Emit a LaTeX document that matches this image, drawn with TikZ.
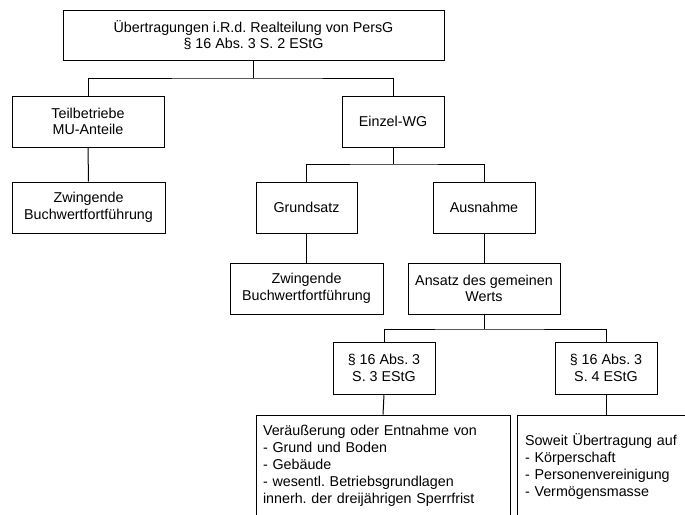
\documentclass[tikz,border=0pt]{standalone}
\usepackage{fontspec}
\setmainfont{Liberation Sans}
\begin{document}
\frenchspacing
\begin{tikzpicture}[x=1pt,y=-1pt,
  box/.style={draw, line width=1pt, align=center, inner sep=0pt,
    font=\fontsize{14.3}{16.6}\selectfont},
  listbox/.style={box, align=left, inner xsep=7pt,
    font=\fontsize{14.3}{17}\selectfont},
  link/.style={line width=1pt}]
\useasboundingbox (0,0) rectangle (685,514);
\clip (0,0) rectangle (685,514);

% level 0
\node[box, minimum width=381pt, minimum height=50pt] (top) at (253.5,35)
  {Übertragungen i.R.d. Realteilung von PersG\\§ 16 Abs. 3 S. 2 EStG};

% level 1
\node[box, minimum width=152pt, minimum height=51pt] (teil) at (88,121.5)
  {Teilbetriebe\\MU-Anteile};
\node[box, minimum width=102pt, minimum height=51pt] (einzel) at (393,121.5)
  {Einzel-WG};

% level 2
\node[box, minimum width=153pt, minimum height=51pt] (zw1) at (88.5,207.5)
  {Zwingende\\Buchwertfortführung};
\node[box, minimum width=101pt, minimum height=51pt] (grund) at (306.5,207.5)
  {Grundsatz};
\node[box, minimum width=102pt, minimum height=51pt] (ausn) at (484,207.5)
  {Ausnahme};

% level 3
\node[box, minimum width=153pt, minimum height=51pt] (zw2) at (306.5,288.5)
  {Zwingende\\Buchwertfortführung};
\node[box, minimum width=152pt, minimum height=51pt] (ansatz) at (484,288.5)
  {Ansatz des gemeinen\\Werts};

% level 4
\node[box, minimum width=102pt, minimum height=52pt] (s3) at (384,368)
  {§ 16 Abs. 3\\S. 3 EStG};
\node[box, minimum width=102pt, minimum height=52pt] (s4) at (606,368)
  {§ 16 Abs. 3\\S. 4 EStG};

% level 5
\node[listbox, text width=240pt, minimum height=102pt] (veraeu) at (383,466)
  {Veräußerung oder Entnahme von\\- Grund und Boden\\- Gebäude\\- wesentl. Betriebsgrundlagen\\innerh. der dreijährigen Sperrfrist};
\node[listbox, inner xsep=8pt, text width=162pt, minimum height=102pt] (soweit) at (606,466)
  {Soweit Übertragung auf\\- Körperschaft\\- Personenvereinigung\\- Vermögensmasse};

% junctions
\coordinate (j0) at (253.5,78);
\coordinate (j1) at (393,164);
\coordinate (j2) at (484,329);

% connectors
\draw[link] (top.south) -- (j0);
\draw[link] (teil.north) |- (j0) -| (einzel.north);
\draw[link] (teil.south) -- (zw1.north);
\draw[link] (einzel.south) -- (j1);
\draw[link] (grund.north) |- (j1) -| (ausn.north);
\draw[link] (grund.south) -- (zw2.north);
\draw[link] (ausn.south) -- (ansatz.north);
\draw[link] (ansatz.south) -- (j2);
\draw[link] (s3.north) |- (j2) -| (s4.north);
\draw[link] (s3.south) -- (veraeu.north);
\draw[link] (s4.south) -- (soweit.north);
\end{tikzpicture}
\end{document}
